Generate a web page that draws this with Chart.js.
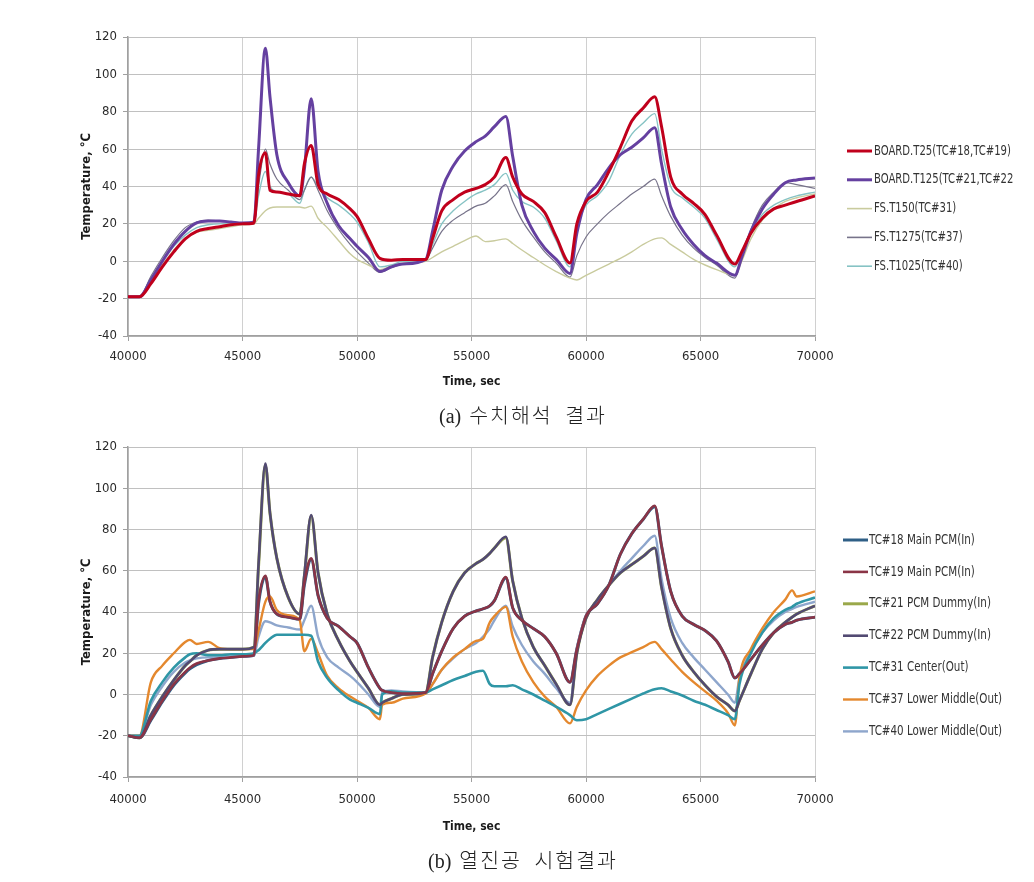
<!DOCTYPE html>
<html>
<head>
<meta charset="utf-8">
<script src="https://cdn.jsdelivr.net/npm/chart.js@4.4.1/dist/chart.umd.min.js"></script>
<style>
  html, body { margin: 0; padding: 0; background: #ffffff; }
  body { width: 1034px; height: 882px; position: relative; overflow: hidden; }
  canvas { position: absolute; left: 0; }
  #c1 { top: 0; }
  #c2 { top: 425px; }
  .cap { position: absolute; font-size: 20px; color: #222; white-space: pre; line-height: 24px; }
  .cap .lat { font-family: "Liberation Serif", "DejaVu Serif", serif; }
  .cap .kor { font-family: "Noto Sans CJK KR", sans-serif; font-size: 20.5px; font-weight: 300; letter-spacing: 2px; word-spacing: 6px; margin-left: 8px; }
</style>
</head>
<body>
<canvas id="c1" width="1034" height="400"></canvas>
<canvas id="c2" width="1034" height="425"></canvas>
<div class="cap" style="top:402px; left:439px"><span class="lat">(a)</span><span class="kor">수치해석 결과</span></div>
<div class="cap" style="top:847px; left:428px"><span class="lat">(b)</span><span class="kor">열진공 시험결과</span></div>
<script>
// ---------- axis settings ----------
const xMin = 40000, xMax = 70000, xStep = 5000;
const yMin = -40, yMax = 120, yStep = 20;
const xTitle = 'Time, sec';
const yTitle = 'Temperature, \u2103';

// ---------- chart (a): numerical analysis ----------
const timeA = [40000, 40500, 41000, 41500, 42000, 42500, 43000, 43500, 44000, 44500, 45000, 45500, 45700, 46000, 46200, 46500, 47000, 47500, 47700, 48000, 48300, 48700, 49200, 49700, 50000, 50500, 51000, 51500, 52000, 53000, 53300, 53700, 54200, 54700, 55200, 55600, 56000, 56500, 56800, 57200, 57700, 58200, 58700, 59300, 59600, 60000, 60500, 61000, 61500, 62000, 62500, 63000, 63300, 63700, 64200, 64700, 65200, 65700, 66500, 66800, 67200, 67700, 68200, 68700, 69200, 70000];
const labelsA = ['BOARD.T25(TC#18,TC#19)', 'BOARD.T125(TC#21,TC#22)', 'FS.T150(TC#31)', 'FS.T1275(TC#37)', 'FS.T1025(TC#40)'];
const board25 = [-19, -19, -12, -3, 5, 12, 16, 17.5, 18.5, 19.5, 20, 20.5, 46, 58, 38, 37, 36, 35, 52, 62, 41, 36, 33, 28, 24, 12, 1.5, 0.5, 1, 1, 12, 27, 33, 37, 39, 41, 45, 55.5, 45, 36, 32, 26, 13, -1, 20, 32, 37, 48, 61, 75, 82, 88, 72, 45, 36, 31, 25, 14, -1.5, 5, 15, 23, 28, 30, 32, 35];
const board125 = [-19, -19, -10, 0, 9, 16, 20.5, 21.5, 21.5, 21, 20.5, 21, 60, 114, 88, 57, 42, 35, 49, 87, 48, 31, 19, 12, 8, 2, -5.5, -3, -1.5, 1, 16, 38, 51, 59, 64, 67, 72, 77.5, 56, 30, 16, 7, 1, -6.5, 15, 33, 41, 50, 57, 61, 66, 71.5, 52, 29, 17, 9, 3, -1, -7.5, 2, 16, 28, 36, 42, 43.5, 44.5];
const fsT150 = [-19, -19, -11, -2, 6, 12, 15.5, 16.5, 17.5, 18.5, 19.5, 20, 23, 27, 28.5, 29, 29, 29, 28.5, 29.5, 23, 18, 11, 4, 1, -2, -4.5, -2.5, -1, 0, 2, 5, 8, 11, 13.5, 10.5, 11, 12, 9.5, 6, 2, -2, -5.5, -9, -10, -7.5, -4.5, -1.5, 1.5, 5, 9, 12, 12.5, 9, 5, 1, -2, -4.5, -7.5, 0, 12, 22, 28, 32, 34, 36];
const fsT1275 = [-19, -19, -8, 2, 11, 18, 21, 22, 21.5, 21, 20.5, 20, 40, 60, 52, 44, 38, 33, 38, 45, 38, 27, 17, 9, 5, -1, -6, -3.5, -1.5, 0.5, 7, 16, 22, 26, 29.5, 31, 35, 41, 32, 22, 13, 5, -1, -8.5, 3, 13, 20, 26, 31, 36, 40, 44, 35, 24, 14, 7, 2, -2, -9, 2, 17, 30, 37, 42, 41, 39];
const fsT1025 = [-19, -19, -9, 0, 8, 14, 18, 19.5, 20, 20, 20, 20, 35, 48, 40, 37, 36, 31, 38, 45, 40, 34, 30, 25, 21, 10, -3, -2, 0, 0.5, 9, 20, 27, 32, 36, 38, 41, 47, 38, 32, 29, 23, 11, -3, 18, 30, 35, 43, 57, 68, 74, 79, 60, 40, 34, 29, 23, 12, -3, 5, 16, 25, 30, 33, 35, 37];
const colorsA = ['#c0001c', '#6540a0', '#c9cb9e', '#77738a', '#86c3c4'];
const widthsA = [3, 3, 1.4, 1.2, 1.4];

// ---------- chart (b): thermal vacuum test ----------
const timeB = [40000, 40500, 41000, 41500, 42000, 42500, 42700, 43000, 43500, 44000, 44500, 45000, 45500, 45700, 46000, 46200, 46500, 47000, 47500, 47700, 48000, 48300, 48700, 49200, 49700, 50000, 50500, 51000, 51100, 51500, 52000, 53000, 53300, 53700, 54200, 54700, 55200, 55500, 55800, 56000, 56500, 56800, 57200, 57700, 58200, 58700, 59300, 59600, 60000, 60500, 61000, 61500, 62000, 62500, 63000, 63300, 63700, 64200, 64700, 65200, 65700, 66200, 66500, 66700, 67200, 67700, 68200, 68700, 69000, 69200, 70000];
const labelsB = ['TC#18 Main PCM(In)', 'TC#19 Main PCM(In)', 'TC#21 PCM Dummy(In)', 'TC#22 PCM Dummy(In)', 'TC#31 Center(Out)', 'TC#37 Lower Middle(Out)', 'TC#40 Lower Middle(Out)'];
const tc18 = [-20, -21, -12.5, -3.5, 4.5, 10.5, 12.5, 14.5, 16.5, 17.5, 18, 18.5, 19, 44, 57, 45, 39, 37.5, 36.5, 53, 65.5, 48, 37, 33, 28, 25, 13, 3, 2, 1, 0.5, 1, 10, 21, 32, 38, 40.5, 41.5, 43, 45.5, 56.5, 42, 36, 32, 28, 20, 6, 22, 38, 44, 53, 68, 78, 85, 91, 72, 50, 38, 34, 31, 26, 16, 8, 10, 17, 24, 30, 34, 35, 36, 37.5];
const tc19 = [-20, -21, -12, -3, 5, 11, 13, 15, 16.5, 17.5, 18, 18.5, 19, 45, 57.5, 45, 39, 37.5, 36.5, 54, 66, 48, 37, 33, 28, 25, 13, 3, 2, 1, 0.5, 1, 10, 21, 32, 38, 40.5, 41.5, 43, 45.5, 57, 42, 36, 32, 28, 20, 6, 22, 38, 44, 53, 68, 78, 85, 91.5, 72, 50, 38, 34, 31, 26, 16, 8, 10, 17, 24, 30, 34, 35, 36, 37.5];
const tc21 = [-20, -21, -10, -1, 7, 14, 16, 19, 21.5, 22, 22, 22, 23, 62, 111, 88, 66, 47, 39, 57, 86.5, 59, 39, 26, 16, 11, 3, -5, -4, -2, 0, 1, 18, 35, 50, 59, 63.5, 65.5, 68.5, 71, 76, 55, 37, 23, 14, 5, -5, 20, 37, 46, 53, 59, 63, 67, 71, 52, 32, 19, 11, 4.5, -1, -5, -8, -3, 10, 22, 30, 35, 37.5, 39, 43];
const tc22 = [-20, -21, -10, -1, 7, 14, 16, 19, 21.5, 22, 22, 22, 23, 63, 112, 88, 66, 47, 39, 58, 87, 59, 39, 26, 16, 11, 3, -5, -4, -2, 0, 1, 18, 35, 50, 59, 63.5, 65.5, 68.5, 71, 76.5, 55, 37, 23, 14, 5, -5, 20, 37, 46, 53, 59, 63, 67, 71, 52, 32, 19, 11, 4.5, -1, -5, -8, -3, 10, 22, 30, 35, 37.5, 39, 43];
const tc31 = [-20, -20, -3, 6, 13, 18, 19.5, 20, 19, 19, 19.5, 19.5, 20, 21.5, 25, 27, 29, 29, 29, 29, 28.5, 16, 8, 2, -2.5, -4, -6.5, -9.5, 0, 1.5, 1, 1, 2.5, 4.5, 7, 9, 11, 11.5, 5, 4, 4, 4.5, 2.5, 0, -3, -6, -10, -12.5, -12, -9.5, -7, -4.5, -2, 0.5, 2.5, 3, 1.5, -0.5, -3, -5, -7.5, -10, -12, 5, 20, 30, 37, 41, 42.5, 44, 47];
const tc37 = [-20, -20, 6, 14, 20, 25.5, 26.5, 24.5, 25.5, 22.5, 22, 22, 22, 31, 45, 47.5, 41, 38.5, 36, 21, 27, 20, 9, 3, -1, -3, -6.5, -12, -5, -4, -2, 0.5, 5, 12, 18, 22, 26, 27, 35, 38, 42.5, 28, 16, 6, -1, -6, -14, -6, 2, 9, 14, 18, 20.5, 23, 25.5, 22, 17, 11, 6, 1.5, -3, -9, -15, 8, 22, 32, 40, 46, 50.5, 47.5, 50];
const tc40 = [-20, -20, -5, 4, 11, 15.5, 16.5, 17.5, 18, 18, 18.5, 19, 19, 28, 35.5, 35, 33.5, 32.5, 31.5, 36, 43, 28, 18, 13, 9, 6, 0, -6, 1, 2, 1.5, 1, 5, 12, 17.5, 22, 25, 28, 32, 36, 43, 33, 24, 16, 10, 3, -4, 22, 38, 45, 53, 60, 66, 72, 77, 56, 37, 25, 18, 12, 6, 0, -4, 8, 21, 30, 36, 40, 41.5, 42.5, 45];
const colorsB = ['#2f5f86', '#8a3446', '#9aa84a', '#524a72', '#2f96a6', '#e4882e', '#8ea6cc'];
const widthsB = [3, 2.6, 3, 2.6, 2.6, 2.4, 2.4];
const ordersB = [2, 1, 2, 1, 1, 1, 1];

// ---------- helpers ----------
const uiFont = '"Liberation Sans Narrow", "DejaVu Sans Condensed", "Arial Narrow", "Liberation Sans", sans-serif';
Chart.defaults.font.family = uiFont;
Chart.defaults.color = '#2a2a2a';

const sideLegend = {
  id: 'sideLegend',
  afterDraw(chart, args, o) {
    const ctx = chart.ctx;
    ctx.save();
    ctx.beginPath();
    ctx.rect(0, 0, o.clipX, chart.height);
    ctx.clip();
    chart.data.datasets.forEach((ds, i) => {
      const y = o.y + i * o.dy;
      ctx.strokeStyle = ds.borderColor;
      ctx.lineWidth = ds.borderWidth >= 2 ? ds.borderWidth : 1.6;
      ctx.beginPath();
      ctx.moveTo(o.x1, y);
      ctx.lineTo(o.x2, y);
      ctx.stroke();
      ctx.save();
      ctx.translate(o.tx, y);
      ctx.scale(o.squeeze, 1);
      ctx.font = o.font;
      ctx.textBaseline = 'middle';
      ctx.textAlign = 'left';
      ctx.fillStyle = o.color;
      ctx.fillText(ds.label, 0, 0);
      ctx.restore();
    });
    ctx.restore();
  }
};

function makeChart(id, times, series, labels, colors, widths, orders, geo) {
  const datasets = series.map((vals, i) => ({
    label: labels[i],
    data: times.map((t, k) => ({ x: t, y: vals[k] })),
    borderColor: colors[i],
    backgroundColor: colors[i],
    borderWidth: widths[i],
    pointRadius: 0,
    fill: false,
    cubicInterpolationMode: 'monotone',
    order: orders ? orders[i] : i
  }));
  return new Chart(document.getElementById(id), {
    type: 'line',
    data: { datasets },
    plugins: [sideLegend],
    options: {
      responsive: false,
      animation: false,
      devicePixelRatio: 1,
      layout: { padding: { left: 0, right: 1034 - geo.right, top: geo.top, bottom: 0 } },
      plugins: {
        legend: { display: false },
        tooltip: { enabled: false },
        sideLegend: geo.legend
      },
      scales: {
        x: {
          type: 'linear',
          min: xMin, max: xMax,
          afterFit(s) { s.height = geo.xh; },
          ticks: { stepSize: xStep, padding: geo.xpad, font: { size: 13 }, color: '#2a2a2a', maxRotation: 0,
                   callback: v => String(v) },
          grid: { color: '#d0d0d0', lineWidth: 1, tickLength: 5, tickColor: '#a0a0a0' },
          border: { color: '#a0a0a0', width: 1.5 },
          title: { display: true, text: xTitle, font: { size: 12, weight: 'bold' }, color: '#1a1a1a',
                   padding: { top: 0, bottom: geo.xtpad } }
        },
        y: {
          min: yMin, max: yMax,
          afterFit(s) { s.width = 128; },
          ticks: { stepSize: yStep, padding: 6, font: { size: 13 }, color: '#2a2a2a', callback: v => String(v) },
          grid: { color: '#c0c0c0', lineWidth: 1, tickLength: 5, tickColor: '#a0a0a0' },
          border: { color: '#a0a0a0', width: 1.5 },
          title: { display: true, text: yTitle, font: { size: 13, weight: 'bold' }, color: '#1a1a1a',
                   padding: { top: 79, bottom: 0 } }
        }
      }
    }
  });
}

makeChart('c1', timeA, [board25, board125, fsT150, fsT1275, fsT1025], labelsA, colorsA, widthsA, null, {
  right: 815, top: 37, xh: 64, xpad: 7.5, xtpad: 10.5,
  legend: { x1: 847, x2: 872, tx: 874, y: 151, dy: 28.8, squeeze: 0.8, clipX: 1014,
            font: '14px ' + uiFont, color: '#333333' }
});

makeChart('c2', timeB, [tc18, tc19, tc21, tc22, tc31, tc37, tc40], labelsB, colorsB, widthsB, ordersB, {
  right: 815, top: 22, xh: 73, xpad: 10, xtpad: 16,
  legend: { x1: 843, x2: 868, tx: 869, y: 540 - 425, dy: 31.9, squeeze: 0.82, clipX: 1014,
            font: '14px ' + uiFont, color: '#333333' }
});
</script>
</body>
</html>
